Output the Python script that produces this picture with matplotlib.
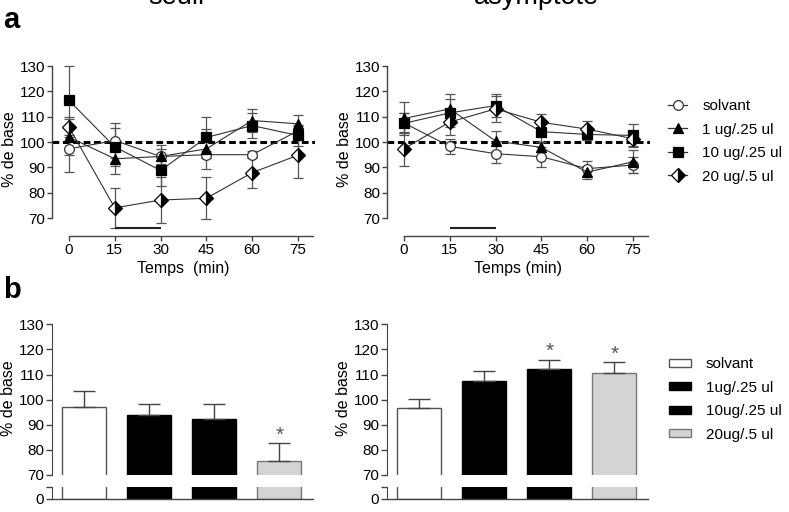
import matplotlib
matplotlib.use('Agg')
import matplotlib.pyplot as plt
import numpy as np
from matplotlib.lines import Line2D
from matplotlib.patches import Patch

plt.rcParams['font.family'] = ['Liberation Sans', 'DejaVu Sans']

# ---------------- data ----------------
times = [0, 15, 30, 45, 60, 75]
line_labels = ['solvant', '1 ug/.25 ul', '10 ug/.25 ul', '20 ug/.5 ul']

seuil_solvant = [97.3, 100.6, 94.3, 95.0, 95.0, 104.4]
seuil_solvant_err = [9.0, 7.0, 3.0, 1.5, 1.5, 2.0]
seuil_1ug = [101.9, 93.4, 94.3, 97.3, 108.5, 107.2]
seuil_1ug_err = [7.0, 6.0, 4.5, 8.0, 4.5, 3.5]
seuil_10ug = [116.4, 98.1, 88.8, 101.8, 106.5, 102.6]
seuil_10ug_err = [13.6, 7.5, 6.0, 8.0, 5.0, 4.0]
seuil_20ug = [105.9, 74.0, 77.1, 77.8, 87.9, 94.8]
seuil_20ug_err = [4.0, 8.0, 9.0, 8.2, 6.0, 9.0]

asym_solvant = [107.5, 98.3, 95.4, 94.2, 89.5, 90.9]
asym_solvant_err = [4.0, 3.0, 3.5, 4.0, 3.0, 3.0]
asym_1ug = [109.3, 113.1, 100.4, 97.9, 88.1, 92.2]
asym_1ug_err = [6.4, 6.0, 4.0, 2.0, 2.5, 4.5]
asym_10ug = [107.4, 111.5, 114.4, 104.1, 103.0, 102.6]
asym_10ug_err = [4.0, 5.5, 4.5, 4.0, 2.0, 4.6]
asym_20ug = [97.4, 107.9, 113.1, 107.8, 105.1, 101.3]
asym_20ug_err = [6.7, 5.0, 5.0, 3.3, 3.2, 3.0]

injection_period = [15, 30]

bar_labels = ['solvant', '1ug/.25 ul', '10ug/.25 ul', '20ug/.5 ul']
seuil_bar = [97.2, 93.7, 92.4, 75.4]
seuil_bar_err = [6.2, 4.4, 5.7, 7.3]
seuil_sig = [False, False, False, True]
asym_bar = [96.8, 107.3, 112.3, 110.6]
asym_bar_err = [3.3, 4.2, 3.6, 4.4]
asym_sig = [False, False, True, True]

# ---------------- styles ----------------
W, H = 789, 512
fig = plt.figure(figsize=(W / 100, H / 100), dpi=100)

AX_COL = '#444444'
TICK_FS = 11
LABEL_FS = 11.5
marker_styles = [
    dict(marker='o', mfc='white', mec='#333333', ms=7, mew=0.9),
    dict(marker='^', mfc='black', mec='black', ms=7.5, mew=0.9),
    dict(marker='s', mfc='black', mec='black', ms=7, mew=0.9),
    dict(marker='D', mfc='black', mfcalt='white', fillstyle='right', mec='black', ms=7, mew=0.9),
]
bar_faces = ['white', 'black', 'black', '#d4d4d4']
bar_edges = ['#555555', 'black', 'black', '#777777']


def fig_rect(l, t, r, b):
    return [l / W, 1 - b / H, (r - l) / W, (b - t) / H]


def style_line_axes(ax):
    ax.set_xlim(-5.57, 80.6)
    ax.set_ylim(62.9, 131.6)
    for s in ['top', 'right']:
        ax.spines[s].set_visible(False)
    ax.spines['left'].set_bounds(70, 130)
    ax.spines['bottom'].set_bounds(0, 80)
    for s in ['left', 'bottom']:
        ax.spines[s].set_color(AX_COL)
        ax.spines[s].set_linewidth(1.0)
    ax.set_xticks(times)
    ax.set_yticks(range(70, 131, 10))
    ax.tick_params(direction='out', length=3.5, width=1.0, color=AX_COL,
                   labelsize=TICK_FS, pad=1.5)
    ax.set_ylabel('% de base', fontsize=LABEL_FS, labelpad=2)


def draw_lines(ax, series, errs):
    for i, (m, e) in enumerate(zip(series, errs)):
        ax.errorbar(times, m, yerr=e, fmt='none', ecolor='#555555',
                    elinewidth=0.9, capsize=3.3, capthick=0.9, zorder=2)
        ax.plot(times, m, color='#333333', lw=0.8, zorder=3,
                **marker_styles[i])
    ax.axhline(100, color='black', lw=2.2, ls=(0, (2.2, 1.2)), zorder=1.5)
    ax.plot(injection_period, [66, 66], color='#222222', lw=1.5,
            solid_capstyle='butt', zorder=2)


# ---- top-left: seuil ----
ax1 = fig.add_axes(fig_rect(52, 62, 315, 236))
style_line_axes(ax1)
draw_lines(ax1, [seuil_solvant, seuil_1ug, seuil_10ug, seuil_20ug],
           [seuil_solvant_err, seuil_1ug_err, seuil_10ug_err, seuil_20ug_err])
ax1.set_xlabel('Temps  (min)', fontsize=LABEL_FS, labelpad=3)

# ---- top-right: asymptote ----
ax2 = fig.add_axes(fig_rect(387, 62, 650, 236))
style_line_axes(ax2)
draw_lines(ax2, [asym_solvant, asym_1ug, asym_10ug, asym_20ug],
           [asym_solvant_err, asym_1ug_err, asym_10ug_err, asym_20ug_err])
ax2.set_xlabel('Temps (min)', fontsize=LABEL_FS, labelpad=3)

line_handles = [Line2D([0], [0], color='#333333', lw=0.9, **marker_styles[i])
                for i in range(4)]
fig.legend(line_handles, line_labels, loc='center left',
           bbox_to_anchor=(668 / W, 1 - 141.5 / H), frameon=False,
           fontsize=11, handlelength=1.25, handletextpad=1.0,
           labelspacing=0.62, borderpad=0, borderaxespad=0)

# titles (partially cut at the top, as in the source figure)
fig.text(176 / W, 1 - 4 / H, 'seuil', fontsize=19.5, ha='center', va='baseline')
fig.text(536 / W, 1 - 4 / H, 'asymptote', fontsize=19.5, ha='center', va='baseline')

# panel labels
fig.text(3 / W, 1 - 28 / H, 'a', fontsize=21, fontweight='bold', va='baseline')
fig.text(3 / W, 1 - 298 / H, 'b', fontsize=21, fontweight='bold', va='baseline')


# ---------------- bar charts (broken axis) ----------------
def draw_bars(left, right, vals, errs, sig):
    x = np.arange(len(vals))
    xl = (-0.5, 3.52)
    top = fig.add_axes(fig_rect(left, 321.8, right, 475))
    bot = fig.add_axes(fig_rect(left, 487, right, 499))
    for ax in (top, bot):
        ax.bar(x, vals, width=0.677, color=bar_faces, edgecolor=bar_edges,
               linewidth=1.0, zorder=2)
        ax.set_xlim(*xl)
        for s in ['top', 'right']:
            ax.spines[s].set_visible(False)
        ax.spines['left'].set_color(AX_COL)
        ax.spines['bottom'].set_color(AX_COL)
        ax.set_xticks([])
        ax.tick_params(direction='out', length=4, width=1.0, color=AX_COL,
                       labelsize=TICK_FS, pad=1.5)
    top.set_ylim(70, 131)
    top.spines['bottom'].set_visible(False)
    top.spines['left'].set_bounds(70, 130)
    top.set_yticks(range(70, 131, 10))
    top.set_ylabel('% de base', fontsize=LABEL_FS, labelpad=2)
    top.errorbar(x, vals, yerr=[np.zeros(len(errs)), errs], fmt='none',
                 ecolor='#444444', elinewidth=1.0, capsize=8, capthick=1.0,
                 zorder=3)
    for xi, v, e, s in zip(x, vals, errs, sig):
        if s:
            top.text(xi, v + e + 3.2, '*', ha='center', va='center',
                     fontsize=15, color='#555555')
    bot.set_ylim(0, 4.8)
    bot.set_yticks([0, 4.8])
    bot.set_yticklabels(['0', ''])
    bot.spines['bottom'].set_linewidth(1.0)
    return top, bot


draw_bars(52, 313, seuil_bar, seuil_bar_err, seuil_sig)
draw_bars(387, 648, asym_bar, asym_bar_err, asym_sig)

bar_handles = [Patch(facecolor=bar_faces[i], edgecolor=bar_edges[i], lw=1.0)
               for i in range(4)]
fig.legend(bar_handles, bar_labels, loc='center left',
           bbox_to_anchor=(669 / W, 1 - 399.5 / H), frameon=False,
           fontsize=11, handlelength=1.45, handleheight=0.4,
           handletextpad=0.95, labelspacing=0.62, borderpad=0,
           borderaxespad=0)

fig.savefig('out.png', dpi=100)
